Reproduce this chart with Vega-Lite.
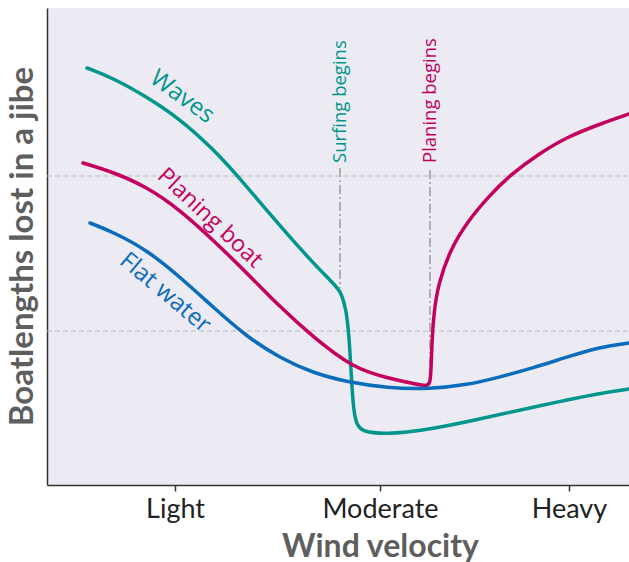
{
  "$schema": "https://vega.github.io/schema/vega-lite/v6.json",
  "width": 582,
  "height": 477,
  "autosize": {"type": "none"},
  "padding": {"left": 47, "top": 8, "right": 0, "bottom": 77},
  "background": "white",
  "config": {
    "view": {"stroke": null, "fill": "#ecebf4"},
    "font": "Lato"
  },
  "datasets": {
    "curves": [
      {"series": "Waves", "x": 40, "y": 417},
      {"series": "Waves", "x": 66, "y": 407},
      {"series": "Waves", "x": 100, "y": 388},
      {"series": "Waves", "x": 133, "y": 366},
      {"series": "Waves", "x": 166, "y": 336},
      {"series": "Waves", "x": 190, "y": 310},
      {"series": "Waves", "x": 233, "y": 259},
      {"series": "Waves", "x": 266, "y": 222},
      {"series": "Waves", "x": 290, "y": 198},
      {"series": "Waves", "x": 294, "y": 192},
      {"series": "Waves", "x": 299, "y": 177},
      {"series": "Waves", "x": 302, "y": 150},
      {"series": "Waves", "x": 304, "y": 115},
      {"series": "Waves", "x": 306, "y": 80},
      {"series": "Waves", "x": 309, "y": 61},
      {"series": "Waves", "x": 315, "y": 53},
      {"series": "Waves", "x": 340, "y": 51},
      {"series": "Waves", "x": 373, "y": 54},
      {"series": "Waves", "x": 420, "y": 63},
      {"series": "Waves", "x": 486, "y": 78},
      {"series": "Waves", "x": 553, "y": 92},
      {"series": "Waves", "x": 582, "y": 96},
      {"series": "Planing boat", "x": 36, "y": 322},
      {"series": "Planing boat", "x": 66, "y": 313},
      {"series": "Planing boat", "x": 100, "y": 298},
      {"series": "Planing boat", "x": 133, "y": 275},
      {"series": "Planing boat", "x": 166, "y": 245},
      {"series": "Planing boat", "x": 200, "y": 212},
      {"series": "Planing boat", "x": 233, "y": 178},
      {"series": "Planing boat", "x": 266, "y": 148},
      {"series": "Planing boat", "x": 306, "y": 117},
      {"series": "Planing boat", "x": 340, "y": 107},
      {"series": "Planing boat", "x": 373, "y": 100},
      {"series": "Planing boat", "x": 380, "y": 99},
      {"series": "Planing boat", "x": 383, "y": 102},
      {"series": "Planing boat", "x": 384, "y": 113},
      {"series": "Planing boat", "x": 385, "y": 145},
      {"series": "Planing boat", "x": 387, "y": 173},
      {"series": "Planing boat", "x": 391, "y": 200},
      {"series": "Planing boat", "x": 403, "y": 235},
      {"series": "Planing boat", "x": 420, "y": 263},
      {"series": "Planing boat", "x": 443, "y": 290},
      {"series": "Planing boat", "x": 463, "y": 310},
      {"series": "Planing boat", "x": 493, "y": 332},
      {"series": "Planing boat", "x": 520, "y": 348},
      {"series": "Planing boat", "x": 553, "y": 361},
      {"series": "Planing boat", "x": 582, "y": 371},
      {"series": "Flat water", "x": 43, "y": 262},
      {"series": "Flat water", "x": 66, "y": 253},
      {"series": "Flat water", "x": 100, "y": 235},
      {"series": "Flat water", "x": 133, "y": 208},
      {"series": "Flat water", "x": 166, "y": 178},
      {"series": "Flat water", "x": 200, "y": 148},
      {"series": "Flat water", "x": 233, "y": 127},
      {"series": "Flat water", "x": 266, "y": 112},
      {"series": "Flat water", "x": 300, "y": 103},
      {"series": "Flat water", "x": 340, "y": 97},
      {"series": "Flat water", "x": 383, "y": 96},
      {"series": "Flat water", "x": 420, "y": 100},
      {"series": "Flat water", "x": 453, "y": 108},
      {"series": "Flat water", "x": 486, "y": 117},
      {"series": "Flat water", "x": 520, "y": 128},
      {"series": "Flat water", "x": 553, "y": 138},
      {"series": "Flat water", "x": 582, "y": 142}
    ],
    "hlines": [{"x": 0, "x2": 582, "y": 309}, {"x": 0, "x2": 582, "y": 154}],
    "vlines": [
      {"x": 293, "y": 317, "y2": 197},
      {"x": 383, "y": 315, "y2": 100}
    ],
    "vlabels": [
      {"series": "Waves", "x": 293, "y": 322, "label": "Surfing begins"},
      {"series": "Planing boat", "x": 383, "y": 322, "label": "Planing begins"}
    ],
    "wavesLabel": [{"series": "Waves", "x": 135, "y": 388, "label": "Waves"}],
    "planingLabel": [{"series": "Planing boat", "x": 163, "y": 267, "label": "Planing boat"}],
    "flatLabel": [{"series": "Flat water", "x": 118, "y": 192, "label": "Flat water"}]
  },
  "encoding": {
    "x": {
      "field": "x", "type": "quantitative",
      "scale": {"domain": [0, 582], "nice": false, "zero": false},
      "axis": {
        "title": "Wind velocity",
        "values": [128, 333, 522],
        "labelExpr": "datum.value == 128 ? 'Light' : datum.value == 333 ? 'Moderate' : 'Heavy'",
        "grid": false,
        "domainColor": "#333333", "domainWidth": 1.5,
        "tickColor": "#333333", "tickWidth": 1.5, "tickSize": 6,
        "labelFont": "Lato", "labelFontSize": 27, "labelColor": "#222222",
        "labelBaseline": "alphabetic", "labelPadding": 26,
        "titleFont": "Lato", "titleFontSize": 32, "titleFontWeight": "bold",
        "titleColor": "#5e5e5e", "titleX": 333, "titleY": 71,
        "titleAlign": "center", "titleBaseline": "alphabetic"
      }
    },
    "y": {
      "field": "y", "type": "quantitative",
      "scale": {"domain": [0, 477], "nice": false, "zero": false},
      "axis": {
        "title": "Boatlengths lost in a jibe",
        "labels": false, "ticks": false, "grid": false,
        "domainColor": "#333333", "domainWidth": 1.5,
        "titleFont": "Lato", "titleFontSize": 33, "titleFontWeight": "bold",
        "titleColor": "#5e5e5e", "titleX": -25, "titleY": 238,
        "titleAngle": 270, "titleAlign": "center", "titleBaseline": "middle"
      }
    }
  },
  "layer": [
    {
      "data": {"name": "hlines"},
      "mark": {"type": "rule", "color": "#b8b8b8", "strokeWidth": 1.2, "strokeDash": [5, 3]},
      "encoding": {"x2": {"field": "x2"}}
    },
    {
      "data": {"name": "vlines"},
      "mark": {"type": "rule", "color": "#9a9a9a", "strokeWidth": 1.5, "strokeDash": [9, 3, 2, 3]},
      "encoding": {"y2": {"field": "y2"}}
    },
    {
      "data": {"name": "curves"},
      "mark": {"type": "line", "strokeWidth": 3.5, "interpolate": "basis", "strokeCap": "round"},
      "encoding": {
        "color": {"field": "series", "type": "nominal", "legend": null,
          "scale": {"domain": ["Waves", "Planing boat", "Flat water"], "range": ["#00968b", "#c3005e", "#0a6cbb"]}}
      }
    },
    {
      "data": {"name": "vlabels"},
      "mark": {"type": "text", "angle": 270, "align": "left", "baseline": "middle", "font": "Open Sans", "fontSize": 18.5},
      "encoding": {
        "text": {"field": "label"},
        "color": {"field": "series", "type": "nominal", "legend": null}
      }
    },
    {
      "data": {"name": "wavesLabel"},
      "mark": {"type": "text", "angle": 36, "align": "center", "baseline": "middle", "font": "Open Sans", "fontSize": 24},
      "encoding": {
        "text": {"field": "label"},
        "color": {"field": "series", "type": "nominal", "legend": null}
      }
    },
    {
      "data": {"name": "planingLabel"},
      "mark": {"type": "text", "angle": 43, "align": "center", "baseline": "middle", "font": "Open Sans", "fontSize": 23},
      "encoding": {
        "text": {"field": "label"},
        "color": {"field": "series", "type": "nominal", "legend": null}
      }
    },
    {
      "data": {"name": "flatLabel"},
      "mark": {"type": "text", "angle": 40, "align": "center", "baseline": "middle", "font": "Open Sans", "fontSize": 24},
      "encoding": {
        "text": {"field": "label"},
        "color": {"field": "series", "type": "nominal", "legend": null}
      }
    }
  ]
}
